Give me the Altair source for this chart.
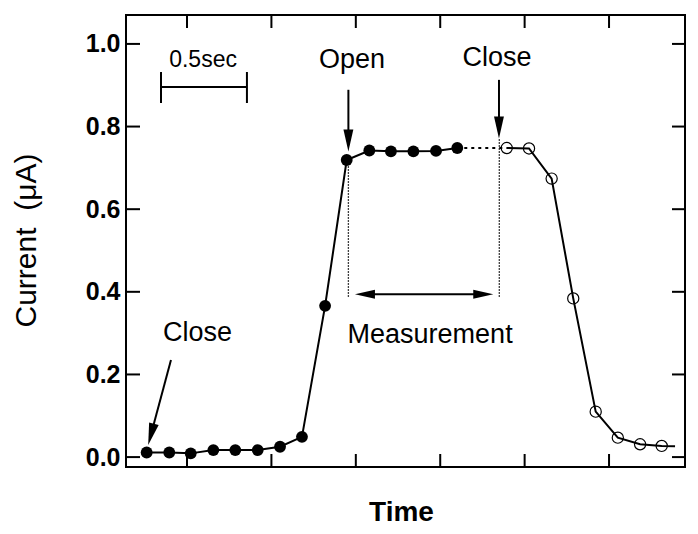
import altair as alt
import pandas as pd

# ---- data ----
# time in seconds (tick spacing = 0.5 s), current in microampere
t_filled = [0.261, 0.395, 0.522, 0.656, 0.786, 0.919, 1.051, 1.181, 1.318,
            1.446, 1.580, 1.708, 1.841, 1.975, 2.101]
i_filled = [0.011, 0.011, 0.009, 0.017, 0.017, 0.017, 0.025, 0.049, 0.366,
            0.719, 0.742, 0.740, 0.740, 0.741, 0.748]
t_open = [2.394, 2.526, 2.660, 2.788, 2.921, 3.052, 3.184, 3.312]
i_open = [0.748, 0.747, 0.674, 0.384, 0.110, 0.047, 0.031, 0.027]
t_tail = [3.391]
i_tail = [0.026]

x_ticks = [0.5, 1.0, 1.5, 2.0, 2.5, 3.0]
y_ticks = [0.0, 0.2, 0.4, 0.6, 0.8, 1.0]

# annotation texts
ann_text = ["0.5sec", "Open", "Close", "Close", "Measurement"]
ann_t = [0.595, 1.477, 2.336, 0.562, 1.940]
ann_v = [0.945, 0.942, 0.947, 0.282, 0.277]
ann_fs = [23, 27, 27, 27, 27]

# arrow shafts and scale bar segments
seg_t1 = [1.456, 2.348, 0.405, 1.554, 0.346, 0.346, 0.855]
seg_t2 = [1.456, 2.348, 0.287, 2.255, 0.855, 0.346, 0.855]
seg_v1 = [0.889, 0.913, 0.235, 0.394, 0.896, 0.857, 0.857]
seg_v2 = [0.766, 0.798, 0.055, 0.394, 0.896, 0.932, 0.932]

# arrow heads
head_t = [1.456, 2.348, 0.287, 1.554, 2.255]
head_v = [0.766, 0.798, 0.055, 0.394, 0.394]
head_angle = [0, 0, 15, 90, 270]
head_size = [484, 484, 484, 400, 400]

# vertical dotted guide lines
vd_t = [1.456, 2.350]
vd_top = [0.719, 0.772]
vd_bottom = [0.388, 0.388]

X_DOMAIN = [0.1386, 3.450]
Y_DOMAIN = [-0.024, 1.070]
W, H = 559, 452
FONT = "Liberation Sans"
TRI = "M-0.45,-1L0.45,-1L0,1Z"
Y_TITLE = "Current\u00a0\u00a0(μA)"

xs = alt.Scale(domain=X_DOMAIN, nice=False, zero=False)
ys = alt.Scale(domain=Y_DOMAIN, nice=False, zero=False)

x_axis = alt.Axis(labels=False, ticks=False, domain=False, grid=False,
                  title="Time", titleFont=FONT, titleFontSize=28,
                  titleFontWeight="bold", titleColor="black",
                  titleX=275, titleY=45, titleBaseline="middle", titleAlign="center")
y_axis = alt.Axis(values=y_ticks, format=".1f", ticks=False, domain=False, grid=False,
                  labelFont=FONT, labelFontSize=25, labelFontWeight="bold",
                  labelColor="black", labelPadding=6,
                  title=Y_TITLE, titleFont=FONT, titleFontSize=30,
                  titleFontWeight="normal", titleColor="black",
                  titleX=-100, titleY=225, titleAngle=270,
                  titleAlign="center", titleBaseline="middle")


def X(f):
    return alt.X(f, type="quantitative", scale=xs, axis=x_axis, title="Time")


def Y(f):
    return alt.Y(f, type="quantitative", scale=ys, axis=y_axis, title=Y_TITLE)


df_filled = pd.DataFrame({"t": t_filled, "v": i_filled})
df_open = pd.DataFrame({"t": t_open, "v": i_open})
df_open_line = pd.DataFrame({"t": t_open + t_tail, "v": i_open + i_tail})
df_gap = pd.DataFrame({"t": [t_filled[-1]], "t2": [t_open[0]],
                       "v": [i_filled[-1]], "v2": [i_open[0]]})
df_ann = pd.DataFrame({"label": ann_text, "t": ann_t, "v": ann_v, "fs": ann_fs})
df_seg = pd.DataFrame({"t": seg_t1, "t2": seg_t2, "v": seg_v1, "v2": seg_v2})
df_head = pd.DataFrame({"t": head_t, "v": head_v, "a": head_angle, "s": head_size})
df_vd = pd.DataFrame({"t": vd_t, "v": vd_bottom, "v2": vd_top})
df_xt = pd.DataFrame({"t": x_ticks})
df_yt = pd.DataFrame({"v": y_ticks})

line_filled = alt.Chart(df_filled).mark_line(color="black", strokeWidth=2).encode(
    x=X("t"), y=Y("v"))
line_open = alt.Chart(df_open_line).mark_line(color="black", strokeWidth=2).encode(
    x=X("t"), y=Y("v"))
gap = alt.Chart(df_gap).mark_rule(color="black", strokeWidth=2, strokeDash=[3, 4]).encode(
    x=X("t"), x2="t2", y=Y("v"), y2="v2")
vdots = alt.Chart(df_vd).mark_rule(color="black", strokeWidth=1.3, strokeDash=[1.5, 1.5]).encode(
    x=X("t"), y=Y("v"), y2="v2")
pts_filled = alt.Chart(df_filled).mark_point(shape="circle", filled=True, color="black",
                                              opacity=1, size=140).encode(x=X("t"), y=Y("v"))
pts_open = alt.Chart(df_open).mark_point(shape="circle", filled=False, color="black",
                                          opacity=1, size=125, strokeWidth=1.2).encode(
    x=X("t"), y=Y("v"))
segs = alt.Chart(df_seg).mark_rule(color="black", strokeWidth=2).encode(
    x=X("t"), x2="t2", y=Y("v"), y2="v2")
heads = alt.Chart(df_head).mark_point(shape=TRI, filled=True, color="black", opacity=1).encode(
    x=X("t"), y=Y("v"),
    angle=alt.Angle("a:Q", scale=None),
    size=alt.Size("s:Q", scale=None),
)
texts = alt.Chart(df_ann).mark_text(font=FONT, color="black", align="center",
                                    baseline="alphabetic").encode(
    x=X("t"), y=Y("v"), text="label:N", size=alt.Size("fs:Q", scale=None))

yt_left = alt.Chart(df_yt).mark_rule(color="black", strokeWidth=2).encode(
    y=Y("v"), x=alt.value(0), x2=alt.value(14))
yt_right = alt.Chart(df_yt).mark_rule(color="black", strokeWidth=2).encode(
    y=Y("v"), x=alt.value(W - 13), x2=alt.value(W))
xt_top = alt.Chart(df_xt).mark_rule(color="black", strokeWidth=2).encode(
    x=X("t"), y=alt.value(0), y2=alt.value(13))
xt_bottom = alt.Chart(df_xt).mark_rule(color="black", strokeWidth=2).encode(
    x=X("t"), y=alt.value(H - 13), y2=alt.value(H))

chart = alt.layer(
    line_filled, line_open, gap, vdots, pts_filled, pts_open, segs, heads, texts,
    yt_left, yt_right, xt_top, xt_bottom,
).properties(
    width=W, height=H,
    padding={"left": 118, "top": 7, "right": 5, "bottom": 60},
    autosize=alt.AutoSizeParams(type="none"),
    background="white",
).configure_view(stroke="black", strokeWidth=2)

chart.save("out.html", embed_options={"renderer": "svg", "actions": False})
